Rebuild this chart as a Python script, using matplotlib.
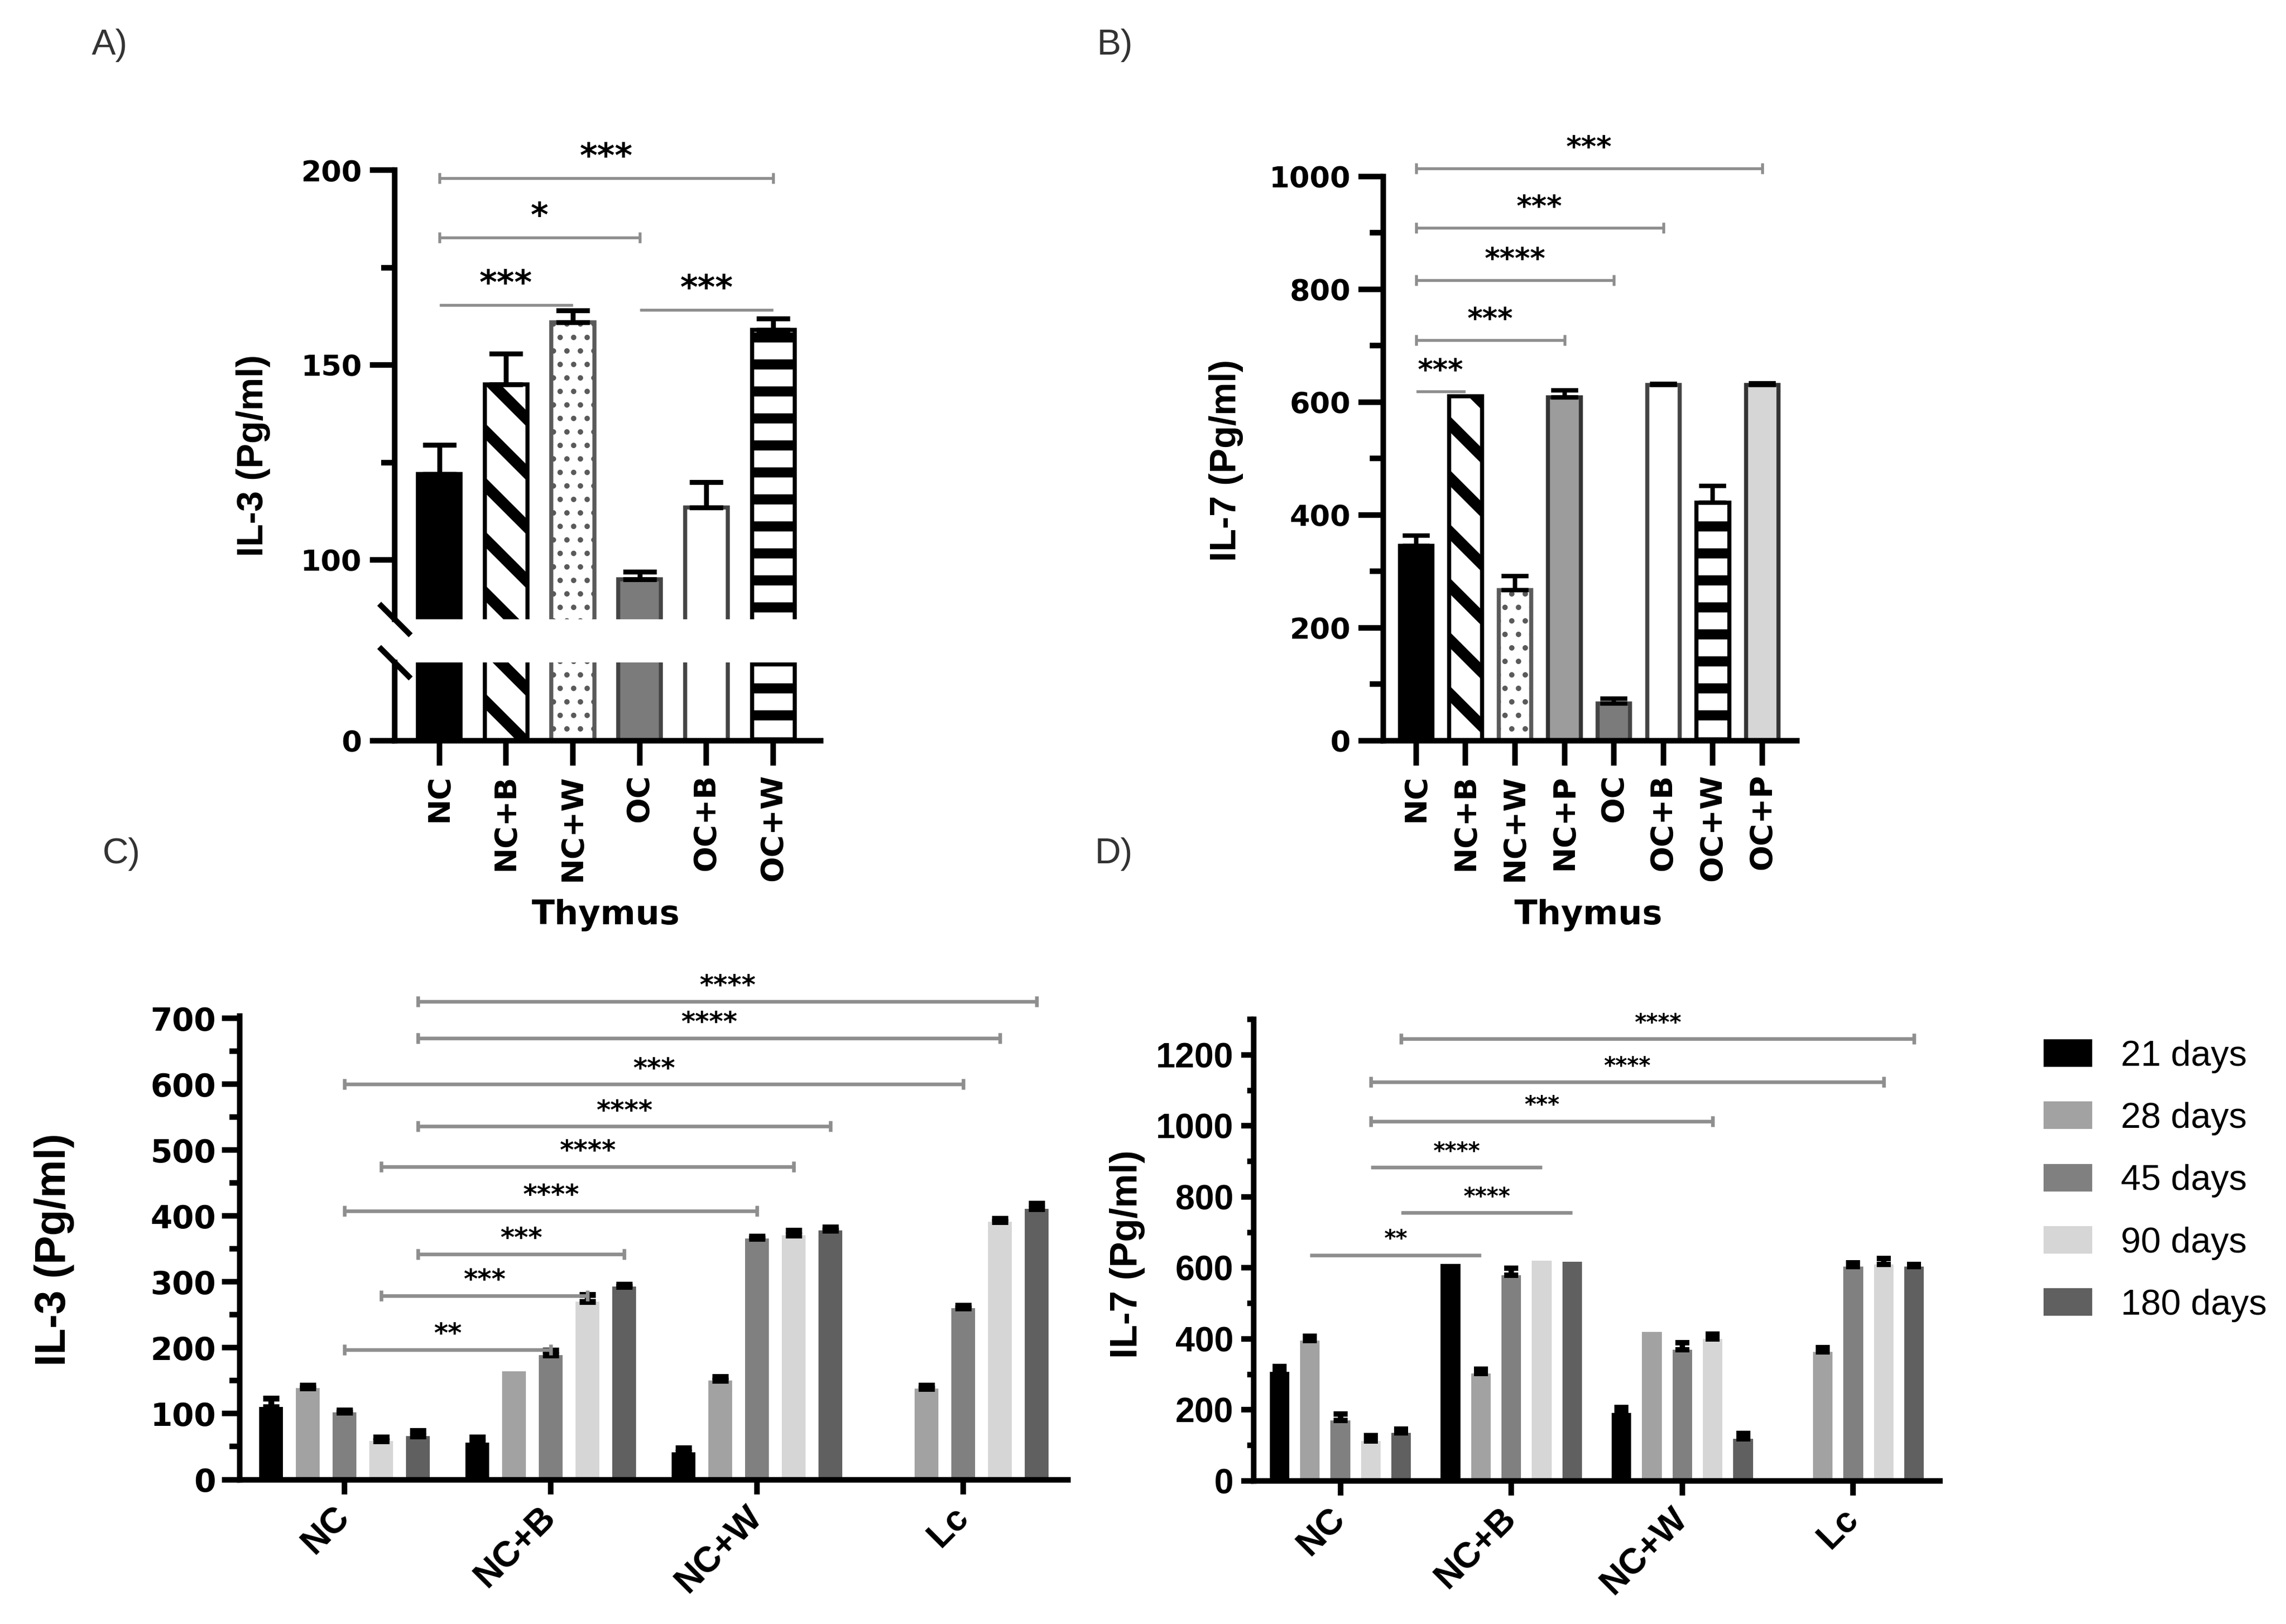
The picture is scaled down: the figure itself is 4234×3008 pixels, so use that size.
import numpy as np
import matplotlib
matplotlib.use("Agg")
import matplotlib.pyplot as plt
from matplotlib.patches import Patch
from matplotlib.ticker import MultipleLocator, FixedLocator

W, H, DPI = 4234, 3008, 300

# ---------------- data ----------------
# A) IL-3, thymus
groups_a = ["NC", "NC+B", "NC+W", "OC", "OC+B", "OC+W"]
il3_mean = [122, 145, 161, 95, 113.5, 159]
il3_sem = [7.5, 8, 3, 2, 6.5, 3]
# (from, to, line level, label)
sig_a = [(0, 5, 198, "***"), (0, 3, 182.8, "*"), (0, 2, 165.4, "***"), (3, 5, 164.2, "***")]

# B) IL-7, thymus
groups_b = ["NC", "NC+B", "NC+W", "NC+P", "OC", "OC+B", "OC+W", "OC+P"]
il7_mean = [345, 610, 267, 608, 66, 630, 422, 630]
il7_sem = [18, 0, 24, 13, 8, 2, 29, 3]
sig_b = [(0, 7, 1014, "***"), (0, 5, 909, "***"), (0, 4, 816, "****"),
         (0, 3, 710, "***"), (0, 1, 619, "***")]

# C) / D) time course
groups_cd = ["NC", "NC+B", "NC+W", "Lc"]
days = ["21 days", "28 days", "45 days", "90 days", "180 days"]

il3_21d = [110, 56, 41, 0]
il3_28d = [139, 164, 150, 138]
il3_45d = [102, 189, 366, 260]
il3_90d = [59, 270, 371, 391]
il3_180d = [66, 293, 378, 411]
il3_21d_sem = [13, 8, 7, 0]
il3_28d_sem = [4, 0, 6, 5]
il3_45d_sem = [3, 7, 3, 4]
il3_90d_sem = [5, 11, 7, 5]
il3_180d_sem = [8, 3, 5, 8]

il7_21d = [307, 611, 192, 0]
il7_28d = [396, 302, 420, 363]
il7_45d = [171, 579, 369, 603]
il7_90d = [112, 621, 400, 609]
il7_180d = [136, 618, 118, 603]
il7_21d_sem = [16, 0, 15, 0]
il7_28d_sem = [12, 12, 0, 12]
il7_45d_sem = [18, 20, 21, 12]
il7_90d_sem = [16, 0, 14, 18]
il7_180d_sem = [10, 0, 16, 6]

# brackets as ((group, day), (group, day), level, label)
sig_c = [((0, 4), (3, 4), 726, "****"), ((0, 4), (3, 3), 670, "****"),
         ((0, 2), (3, 2), 600, "***"), ((0, 4), (2, 4), 536, "****"),
         ((0, 3), (2, 3), 475, "****"), ((0, 2), (2, 2), 408, "****"),
         ((0, 4), (1, 4), 342, "***"), ((0, 3), (1, 3), 279, "***"),
         ((0, 2), (1, 2), 197, "**")]
sig_d = [((0, 4), (3, 4), 1245, "****"), ((0, 3), (3, 3), 1123, "****"),
         ((0, 3), (2, 3), 1013, "***"), ((0, 3), (1, 3), 883, "****"),
         ((0, 4), (1, 4), 755, "****"), ((0, 1), (1, 1), 636, "**")]

# ---------------- styles ----------------
group_style = {
    "NC": dict(fc="black", ec="black", hatch=None, hlw=1.0),
    "NC+B": dict(fc="white", ec="black", hatch="\\", hlw=5.0),
    "NC+W": dict(fc="white", ec="#5a5a5a", hatch="..", hlw=1.2),
    "NC+P": dict(fc="#9c9c9c", ec="#333333", hatch=None, hlw=1.0),
    "OC": dict(fc="#7b7b7b", ec="#444444", hatch=None, hlw=1.0),
    "OC+B": dict(fc="white", ec="#444444", hatch=None, hlw=1.0),
    "OC+W": dict(fc="white", ec="black", hatch="-", hlw=4.5),
    "OC+P": dict(fc="#d6d6d6", ec="#333333", hatch=None, hlw=1.0),
}
day_colors = ["#000000", "#a2a2a2", "#808080", "#d6d6d6", "#606060"]
line_gray = "#8e8e8e"
BOLD = "DejaVu Sans"
ARIAL = ["Liberation Sans", "DejaVu Sans"]

fig = plt.figure(figsize=(W / DPI, H / DPI), dpi=DPI)


def fx(px):
    return px / W


def fy(py):
    return 1 - py / H


def pattern_bars(ax, groups, means, width):
    x = np.arange(len(groups))
    for i, g in enumerate(groups):
        st = group_style[g]
        with plt.rc_context({"hatch.linewidth": st["hlw"]}):
            b = ax.bar(x[i], means[i], width=width, color=st["fc"], edgecolor=st["ec"],
                       linewidth=1.8, hatch=st["hatch"], zorder=2)
        for p in b.patches:
            if hasattr(p, "set_hatch_linewidth"):
                p.set_hatch_linewidth(st["hlw"])
    return x


def up_errors(ax, x, means, sems, capsize, lw):
    x = np.asarray(x, dtype=float)
    m = np.asarray(means, dtype=float)
    s = np.asarray(sems, dtype=float)
    keep = s > 0
    ax.errorbar(x[keep], m[keep], yerr=[np.zeros(keep.sum()), s[keep]], fmt="none",
                ecolor="black", elinewidth=lw, capsize=capsize, capthick=lw, zorder=3)


def bracket(ax, x1, x2, y, label, fs, dy_pt, lw=1.4, caps=True):
    ax.plot([x1, x2], [y, y], color=line_gray, lw=lw, clip_on=False, zorder=4,
            solid_capstyle="butt")
    if caps:
        ax.plot([x1, x2], [y, y], ls="none", marker="|", ms=5, mew=lw, color=line_gray,
                clip_on=False, zorder=4)
    ax.annotate(label, xy=((x1 + x2) / 2, y), xytext=(0, dy_pt - 0.56 * fs),
                textcoords="offset points", ha="center", va="baseline",
                fontsize=fs, fontweight="bold", family=BOLD, annotation_clip=False)


def style_axis(ax, lw, tick_len, minor_len, labelsize, weight, family):
    for s in ("top", "right"):
        ax.spines[s].set_visible(False)
    for s in ("left", "bottom"):
        ax.spines[s].set_linewidth(lw)
    ax.tick_params(which="major", length=tick_len, width=lw, labelsize=labelsize)
    ax.tick_params(which="minor", length=minor_len, width=lw)
    for t in ax.get_yticklabels():
        t.set_fontweight(weight)
        t.set_family(family)


# ================= A) broken axis =================
a_left, a_right = fx(731), fx(1520)
ax_a = fig.add_axes([a_left, fy(1147), a_right - a_left, (1147 - 315.5) / H])
ax_a0 = fig.add_axes([a_left, fy(1371.5), a_right - a_left, (1371.5 - 1227) / H])
for ax in (ax_a, ax_a0):
    xa = pattern_bars(ax, groups_a, il3_mean, 0.64)
    ax.set_xlim(-0.667, 5.71)
ax_a.set_ylim(84.75, 200)
ax_a0.set_ylim(0, 20)
up_errors(ax_a, xa, il3_mean, il3_sem, capsize=7.5, lw=2.2)

style_axis(ax_a, 2.5, 11, 6, 13, "bold", BOLD)
style_axis(ax_a0, 2.5, 11, 6, 13, "bold", BOLD)
ax_a.spines["bottom"].set_visible(False)
ax_a.set_xticks([])
ax_a.yaxis.set_major_locator(FixedLocator([100, 150, 200]))
ax_a.yaxis.set_minor_locator(FixedLocator([125, 175]))
ax_a0.set_yticks([0])
ax_a0.set_xticks(xa)
ax_a0.set_xticklabels(groups_a, rotation=90, fontsize=13.5, fontweight="bold", family=BOLD)
ax_a0.tick_params(axis="x", pad=4)
for t in ax_a.get_yticklabels() + ax_a0.get_yticklabels():
    t.set_fontweight("bold")

# break marks on the y axis
brk = [(-1, 1), (1, -1)]
ax_a.plot([0], [0], transform=ax_a.transAxes, marker=brk, ms=14, mew=2.5, color="black",
          clip_on=False, zorder=5)
ax_a0.plot([0], [1], transform=ax_a0.transAxes, marker=brk, ms=14, mew=2.5, color="black",
           clip_on=False, zorder=5)

for x1, x2, y, lab in sig_a:
    bracket(ax_a, x1, x2, y, lab, fs=15, dy_pt=13.4, lw=1.3, caps=(x2 - x1) > 2)

ax_a.set_ylabel("IL-3 (Pg/ml)", fontsize=16.5, fontweight="bold", family=ARIAL, va="center")
ax_a.yaxis.set_label_coords(fx(469), fy(844), transform=fig.transFigure)
ax_a0.set_xlabel("Thymus", fontsize=15, fontweight="bold", family=BOLD, va="center")
ax_a0.xaxis.set_label_coords(fx(1122), fy(1695), transform=fig.transFigure)

# ================= B) =================
b_left, b_right = fx(2562), fx(3328)
ax_b = fig.add_axes([b_left, fy(1371.5), b_right - b_left, (1371.5 - 326.7) / H])
xb = pattern_bars(ax_b, groups_b, il7_mean, 0.66)
ax_b.set_xlim(-0.664, 7.70)
ax_b.set_ylim(0, 1000)
up_errors(ax_b, xb, il7_mean, il7_sem, capsize=6, lw=2.0)
style_axis(ax_b, 2.5, 11, 6, 13, "bold", BOLD)
ax_b.yaxis.set_major_locator(MultipleLocator(200))
ax_b.yaxis.set_minor_locator(MultipleLocator(100))
ax_b.set_xticks(xb)
ax_b.set_xticklabels(groups_b, rotation=90, fontsize=13.5, fontweight="bold", family=BOLD)
ax_b.tick_params(axis="x", pad=4)
for t in ax_b.get_yticklabels():
    t.set_fontweight("bold")
for x1, x2, y, lab in sig_b:
    bracket(ax_b, x1, x2, y, lab, fs=13, dy_pt=12.5, lw=1.3, caps=(x2 - x1) > 2)
ax_b.set_ylabel("IL-7 (Pg/ml)", fontsize=16.5, fontweight="bold", family=ARIAL, va="center")
ax_b.yaxis.set_label_coords(fx(2271), fy(853), transform=fig.transFigure)
ax_b.set_xlabel("Thymus", fontsize=15, fontweight="bold", family=BOLD, va="center")
ax_b.xaxis.set_label_coords(fx(2942), fy(1695), transform=fig.transFigure)

# ================= C) / D) grouped bars =================
SLOT, BW = 0.178, 0.115


def slot_x(g, d):
    return g + (d - 2) * SLOT


def grouped(ax, series, sems, capsize, elw):
    xg = np.arange(len(groups_cd))
    for d, (vals, err) in enumerate(zip(series, sems)):
        xs = xg + (d - 2) * SLOT
        ax.bar(xs, vals, width=BW, color=day_colors[d], linewidth=0, zorder=2,
               label=days[d])
        up_errors(ax, xs, vals, err, capsize=capsize, lw=elw)
    ax.set_xlim(-0.507, 3.507)
    ax.set_xticks(xg)
    return xg


c_left, c_right = fx(444), fx(1978)
ax_c = fig.add_axes([c_left, fy(2740.5), c_right - c_left, (2740.5 - 1882) / H])
grouped(ax_c, [il3_21d, il3_28d, il3_45d, il3_90d, il3_180d],
        [il3_21d_sem, il3_28d_sem, il3_45d_sem, il3_90d_sem, il3_180d_sem], 3.5, 2.6)
ax_c.set_ylim(0, 703.5)
style_axis(ax_c, 2.5, 8, 4.5, 14, "bold", BOLD)
ax_c.yaxis.set_major_locator(MultipleLocator(100))
ax_c.yaxis.set_minor_locator(MultipleLocator(50))
ax_c.tick_params(axis="y", pad=2.6)
ax_c.tick_params(axis="x", length=6.5, pad=8)
ax_c.set_xticklabels(groups_cd, rotation=45, ha="right", va="center", rotation_mode="anchor",
                     fontsize=16, fontweight="bold", family=ARIAL)
for t in ax_c.get_yticklabels():
    t.set_fontweight("bold")
for (g1, d1), (g2, d2), y, lab in sig_c:
    bracket(ax_c, slot_x(g1, d1), slot_x(g2, d2), y, lab, fs=12, dy_pt=10, lw=1.6)
ax_c.set_ylabel("IL-3 (Pg/ml)", fontsize=19, fontweight="bold", family=ARIAL, va="center")
ax_c.yaxis.set_label_coords(fx(100), fy(2315), transform=fig.transFigure)

d_left, d_right = fx(2322), fx(3593)
ax_d = fig.add_axes([d_left, fy(2743), d_right - d_left, (2743 - 1888) / H])
grouped(ax_d, [il7_21d, il7_28d, il7_45d, il7_90d, il7_180d],
        [il7_21d_sem, il7_28d_sem, il7_45d_sem, il7_90d_sem, il7_180d_sem], 3.2, 2.4)
ax_d.set_ylim(0, 1300)
style_axis(ax_d, 2.5, 5.5, 3, 15.5, "bold", ARIAL)
ax_d.yaxis.set_major_locator(MultipleLocator(200))
ax_d.yaxis.set_minor_locator(MultipleLocator(100))
ax_d.tick_params(axis="x", length=6.5, pad=8)
ax_d.set_xticklabels(groups_cd, rotation=45, ha="right", va="center", rotation_mode="anchor",
                     fontsize=16, fontweight="bold", family=ARIAL)
for t in ax_d.get_yticklabels():
    t.set_family(ARIAL)
    t.set_fontweight("bold")
for (g1, d1), (g2, d2), y, lab in sig_d:
    bracket(ax_d, slot_x(g1, d1), slot_x(g2, d2), y, lab, fs=10, dy_pt=9.6, lw=1.6,
            caps=(g2 - g1) > 1)
ax_d.set_ylabel("IL-7 (Pg/ml)", fontsize=17, fontweight="bold", family=ARIAL, va="center")
ax_d.yaxis.set_label_coords(fx(2088), fy(2323), transform=fig.transFigure)

handles = [Patch(facecolor=c, edgecolor="none") for c in day_colors]
fig.legend(handles, days, loc="upper left", bbox_to_anchor=(fx(3785), fy(1925)),
           frameon=False, borderpad=0, borderaxespad=0, handlelength=1.35,
           handleheight=0.8, handletextpad=0.8, labelspacing=0.79,
           prop=dict(family=ARIAL, size=16))

# panel letters
for lab, (px, py) in zip(["A)", "B)", "C)", "D)"],
                         [(203, 84), (2065, 84), (225, 1582), (2063, 1582)]):
    fig.text(fx(px), fy(py), lab, ha="center", va="center", fontsize=16,
             family=ARIAL, color="#333333")

fig.savefig("out.png", dpi=DPI)
